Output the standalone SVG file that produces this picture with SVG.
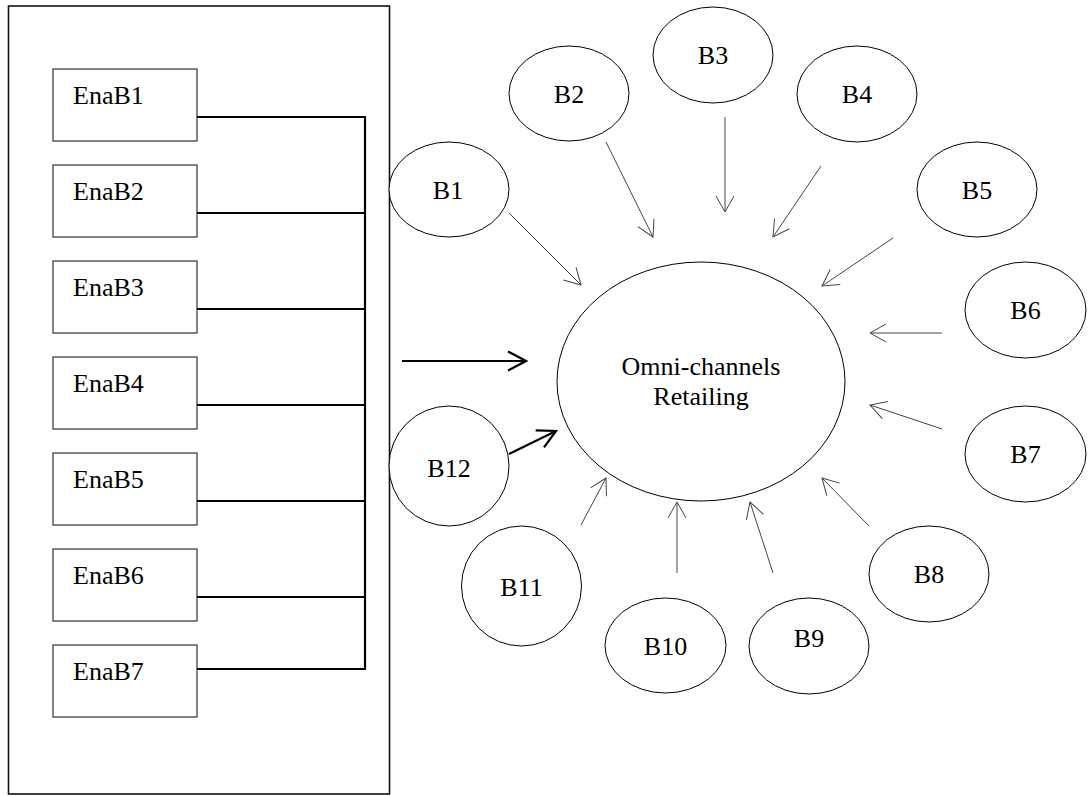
<svg xmlns="http://www.w3.org/2000/svg" width="1091" height="796" viewBox="0 0 1091 796">
<style>
text{font-family:"Liberation Serif","Times New Roman",serif;font-size:26px;fill:#000}
.c{text-anchor:middle}
.box{fill:#fff;stroke:#333;stroke-width:1.2}
.ell{fill:#fff;stroke:#000;stroke-width:1}
.thin{stroke:#444;stroke-width:1;fill:none;marker-end:url(#ah)}
.thick{stroke:#000;stroke-width:2.2;fill:none}
</style>
<defs>
<marker id="ah" markerUnits="userSpaceOnUse" viewBox="-18 -11 20 22" markerWidth="20" markerHeight="22" refX="0" refY="0" orient="auto">
<path d="M-16,-9 L0,0 L-16,9" fill="none" stroke="#444" stroke-width="1"/>
</marker>
<marker id="ahb" markerUnits="userSpaceOnUse" viewBox="-20 -12 22 24" markerWidth="22" markerHeight="24" refX="0" refY="0" orient="auto">
<path d="M-18,-9.5 L0,0 L-18,9.5" fill="none" stroke="#000" stroke-width="2.2"/>
</marker>
</defs>
<rect x="0" y="0" width="1091" height="796" fill="#fff"/>
<g id="container"><rect x="8.5" y="6" width="381" height="788" fill="none" stroke="#111" stroke-width="1.6"/></g>
<g id="EnaB1"><rect class="box" x="53" y="69" width="144" height="72"/><text x="73" y="104">EnaB1</text></g>
<g id="EnaB2"><rect class="box" x="53" y="165" width="144" height="72"/><text x="73" y="200">EnaB2</text></g>
<g id="EnaB3"><rect class="box" x="53" y="261" width="144" height="72"/><text x="73" y="296">EnaB3</text></g>
<g id="EnaB4"><rect class="box" x="53" y="357" width="144" height="72"/><text x="73" y="392">EnaB4</text></g>
<g id="EnaB5"><rect class="box" x="53" y="453" width="144" height="72"/><text x="73" y="488">EnaB5</text></g>
<g id="EnaB6"><rect class="box" x="53" y="549" width="144" height="72"/><text x="73" y="584">EnaB6</text></g>
<g id="EnaB7"><rect class="box" x="53" y="645" width="144" height="72"/><text x="73" y="680">EnaB7</text></g>
<g id="omni"><ellipse class="ell" cx="701" cy="381.5" rx="144" ry="119.5"/><text class="c" x="701" y="375">Omni-channels</text><text class="c" x="701" y="405">Retailing</text></g>
<g id="B1"><ellipse class="ell" cx="449" cy="189.5" rx="60" ry="47.5"/><text class="c" x="448" y="199">B1</text></g>
<g id="B2"><ellipse class="ell" cx="569" cy="93.5" rx="60" ry="47.5"/><text class="c" x="569" y="103">B2</text></g>
<g id="B3"><ellipse class="ell" cx="713" cy="55" rx="60" ry="48"/><text class="c" x="713" y="64">B3</text></g>
<g id="B4"><ellipse class="ell" cx="857" cy="94" rx="60" ry="48"/><text class="c" x="857" y="103">B4</text></g>
<g id="B5"><ellipse class="ell" cx="977" cy="189.5" rx="60" ry="47.5"/><text class="c" x="977" y="199">B5</text></g>
<g id="B6"><ellipse class="ell" cx="1025.5" cy="310" rx="60.5" ry="48"/><text class="c" x="1025.5" y="319">B6</text></g>
<g id="B7"><ellipse class="ell" cx="1025.5" cy="454" rx="60.5" ry="48"/><text class="c" x="1025.5" y="463">B7</text></g>
<g id="B8"><ellipse class="ell" cx="929" cy="574" rx="60" ry="48"/><text class="c" x="929" y="583">B8</text></g>
<g id="B9"><ellipse class="ell" cx="809" cy="646" rx="60" ry="48"/><text class="c" x="809" y="647">B9</text></g>
<g id="B10"><ellipse class="ell" cx="665.5" cy="645.5" rx="60.5" ry="47.5"/><text class="c" x="665.5" y="655">B10</text></g>
<g id="B11"><ellipse class="ell" cx="521.5" cy="586" rx="60" ry="60"/><text class="c" x="521.5" y="596">B11</text></g>
<g id="B12"><ellipse class="ell" cx="449" cy="466" rx="60" ry="60"/><text class="c" x="449" y="477">B12</text></g>
<g id="connectors">
<path class="thick" d="M197,117 H365 M197,213 H365 M197,309 H365 M197,405 H365 M197,501 H365 M197,597 H365 M197,669 H365 M365,116 V670"/>
<path class="thick" d="M402,361 H526" marker-end="url(#ahb)"/>
<path class="thick" d="M509,454 L556,431" marker-end="url(#ahb)"/>
<path class="thin" d="M509,213 L581,285"/>
<path class="thin" d="M606,142 L653,237"/>
<path class="thin" d="M725,117 L725,212"/>
<path class="thin" d="M821,166 L773,237"/>
<path class="thin" d="M893,238 L822,286"/>
<path class="thin" d="M942,333 L870,333"/>
<path class="thin" d="M942,429 L870,405"/>
<path class="thin" d="M869,526 L822,478"/>
<path class="thin" d="M773,573 L750,502"/>
<path class="thin" d="M677,573 L677,502"/>
<path class="thin" d="M581,525 L606,478"/>
</g>
</svg>
